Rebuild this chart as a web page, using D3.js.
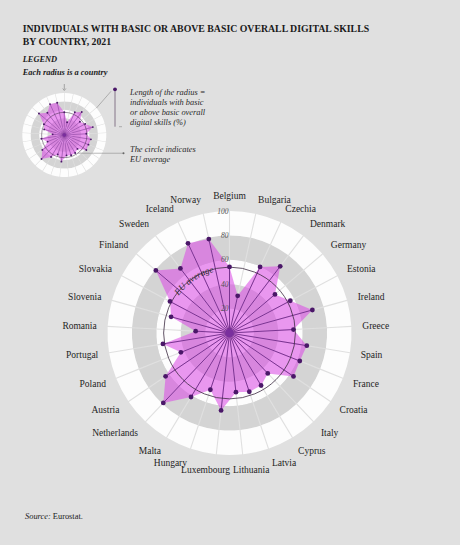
<!DOCTYPE html>
<html>
<head>
<meta charset="utf-8">
<script src="https://cdn.jsdelivr.net/npm/d3@7"></script>
<style>
  html, body { margin: 0; padding: 0; background: #e0e0e0; }
  svg { display: block; }
  text { font-family: "Liberation Serif", "DejaVu Serif", serif; }
</style>
</head>
<body>
<script>
// ---------- data ----------
const countries = ["Belgium","Bulgaria","Czechia","Denmark","Germany","Estonia","Ireland","Greece","Spain","France","Croatia","Italy","Cyprus","Latvia","Lithuania","Luxembourg","Hungary","Malta","Netherlands","Austria","Poland","Portugal","Romania","Slovenia","Slovakia","Finland","Sweden","Iceland","Norway"];
const values = [54.2,31.2,59.7,68.7,48.9,56.4,70.5,52.5,64.2,62.0,63.4,45.6,50.2,50.8,48.8,63.8,49.1,61.2,78.9,63.3,42.9,55.3,27.8,49.7,55.2,79.2,66.5,81.0,78.8];
const euAverage = 54;
const tickValues = [20,40,60,80,100];
const bandBreaks = [0,20,40,60,80,100];
const bandColors = ["#fdfdfd","#d4d4d4","#fdfdfd","#d4d4d4","#fdfdfd"];

const W = 460, H = 545;
const svg = d3.select("body").append("svg").attr("width", W).attr("height", H);

const n = countries.length;
const angle = d3.scaleLinear().domain([0, n]).range([0, 2 * Math.PI]);

function drawRadar(g, R, opt) {
  const r = d3.scaleLinear().domain([0, 100]).range([0, R]);
  // background bands split into sectors
  const arc = d3.arc().padRadius(100).padAngle(opt.gap / 100);
  bandColors.forEach((c, k) => {
    g.append("g").selectAll("path").data(d3.range(n)).join("path")
      .attr("d", i => arc({innerRadius: r(bandBreaks[k]), outerRadius: r(bandBreaks[k + 1]),
                           startAngle: angle(i), endAngle: angle(i + 1)}))
      .attr("fill", c);
  });
  // polygon
  const line = d3.lineRadial().angle((d, i) => angle(i)).radius(d => r(d)).curve(d3.curveLinearClosed);
  g.append("path").attr("d", line(values))
    .attr("fill", "#da4de6").attr("fill-opacity", 0.58).attr("stroke", "none");
  // spokes
  g.append("g").selectAll("line").data(values).join("line")
    .attr("x1", 0).attr("y1", 0)
    .attr("x2", (d, i) => r(d) * Math.sin(angle(i)))
    .attr("y2", (d, i) => -r(d) * Math.cos(angle(i)))
    .attr("stroke", "#6e2a88").attr("stroke-width", opt.spokeW);
  // EU circle
  g.append("circle").attr("r", r(euAverage)).attr("fill", "none")
    .attr("stroke", "#3b2a40").attr("stroke-width", opt.circleW);
  // dots
  g.append("g").selectAll("circle").data(values).join("circle")
    .attr("cx", (d, i) => r(d) * Math.sin(angle(i)))
    .attr("cy", (d, i) => -r(d) * Math.cos(angle(i)))
    .attr("r", opt.dotR).attr("fill", "#4a1768");
  g.append("circle").attr("r", opt.centerR).attr("fill", "#7a2f9e");
  return r;
}

// ---------- main chart ----------
const cx = 229.5, cy = 333, R = 122;
const main = svg.append("g").attr("transform", `translate(${cx},${cy})`);
const r = drawRadar(main, R, {gap: 1.1, spokeW: 0.9, circleW: 0.8, dotR: 2.4, centerR: 4.2});

// tick labels
main.append("g").selectAll("text").data(tickValues).join("text")
  .attr("x", -1).attr("y", d => -r(d))
  .attr("dy", "0.35em")
  .attr("text-anchor", "end")
  .attr("font-style", "italic").attr("font-size", 7.5).attr("fill", "#555")
  .text(d => d);

// EU average curved label
const euR = r(euAverage) - 2.8;
const a0 = -58 * Math.PI / 180, a1 = -10 * Math.PI / 180;
const euPath = d3.path();
euPath.arc(0, 0, euR, a0 - Math.PI / 2, a1 - Math.PI / 2, false);
main.append("path").attr("id", "euArc").attr("d", euPath.toString()).attr("fill", "none");
main.append("text").attr("font-style", "italic").attr("font-size", 9).attr("fill", "#2a2a2a")
  .append("textPath").attr("href", "#euArc").attr("startOffset", "50%").attr("text-anchor", "middle")
  .text("EU average");

// country labels
const labelRx = 133, labelRy = 137;
main.append("g").selectAll("text").data(countries).join("text")
  .each(function (d, i) {
    const a = angle(i), s = Math.sin(a), c = Math.cos(a);
    let x = labelRx * s, anchor;
    if (Math.abs(s) < 0.01) { anchor = "middle"; x = 0; }
    else if (c < 0 && Math.abs(s) < 0.15) { anchor = s > 0 ? "start" : "end"; x = s > 0 ? 3.5 : 0.5; }
    else anchor = s > 0 ? "start" : "end";
    d3.select(this).attr("x", x).attr("y", -labelRy * c).attr("dy", "0.35em").attr("text-anchor", anchor);
  })
  .attr("font-size", 9.5).attr("fill", "#1e1e1e")
  .text(d => d);

// ---------- title ----------
svg.append("text").attr("x", 22.7).attr("y", 31.5)
  .attr("font-weight", "bold").attr("font-size", 9.8).attr("fill", "#1a1a1a")
  .text("INDIVIDUALS WITH BASIC OR ABOVE BASIC OVERALL DIGITAL SKILLS");
svg.append("text").attr("x", 22.7).attr("y", 45)
  .attr("font-weight", "bold").attr("font-size", 9.8).attr("fill", "#1a1a1a")
  .text("BY COUNTRY, 2021");

// ---------- legend ----------
svg.append("text").attr("x", 22.7).attr("y", 61.5)
  .attr("font-weight", "bold").attr("font-style", "italic").attr("font-size", 8.4).attr("fill", "#1a1a1a")
  .text("LEGEND");
svg.append("text").attr("x", 22.7).attr("y", 74.5)
  .attr("font-weight", "bold").attr("font-style", "italic").attr("font-size", 8.4).attr("fill", "#1a1a1a")
  .text("Each radius is a country");

const mcx = 64.3, mcy = 135, mR = 42;
const mini = svg.append("g").attr("transform", `translate(${mcx},${mcy})`);
const mr = drawRadar(mini, mR, {gap: 0.6, spokeW: 0.45, circleW: 0.5, dotR: 0.95, centerR: 1.8});

const annoColor = "#8a8a8a";
// down arrow
svg.append("line").attr("x1", mcx).attr("x2", mcx).attr("y1", mcy - mR - 9).attr("y2", mcy - mR - 3.5)
  .attr("stroke", annoColor).attr("stroke-width", 0.7);
svg.append("path").attr("d", `M${mcx - 1.6},${mcy - mR - 4.5} L${mcx},${mcy - mR - 2.5} L${mcx + 1.6},${mcy - mR - 4.5}`)
  .attr("fill", "none").attr("stroke", annoColor).attr("stroke-width", 0.7);

// radius length bar
const barX = 115, barTop = mcy - 45.7, barBot = mcy - 8.3;
const la = 50 * Math.PI / 180;
svg.append("line")
  .attr("x1", mcx + mr(100) * Math.sin(la)).attr("y1", mcy - mr(100) * Math.cos(la))
  .attr("x2", barX - 4).attr("y2", barTop + 2)
  .attr("stroke", annoColor).attr("stroke-width", 0.6);
svg.append("line").attr("x1", barX).attr("x2", barX).attr("y1", barTop).attr("y2", barBot)
  .attr("stroke", "#7a6a80").attr("stroke-width", 0.9);
svg.append("circle").attr("cx", barX).attr("cy", barTop).attr("r", 1.9).attr("fill", "#4a1768");
svg.append("line").attr("x1", barX + 4).attr("x2", barX + 7).attr("y1", barBot).attr("y2", barBot)
  .attr("stroke", annoColor).attr("stroke-width", 0.6);

// EU circle pointer
const ea = 143.5 * Math.PI / 180;
const ex = mcx + mr(euAverage) * Math.sin(ea), ey = mcy - mr(euAverage) * Math.cos(ea);
svg.append("line").attr("x1", ex).attr("y1", ey).attr("x2", 123.5).attr("y2", ey)
  .attr("stroke", annoColor).attr("stroke-width", 0.6);
svg.append("circle").attr("cx", 123.5).attr("cy", ey).attr("r", 1).attr("fill", "#666");

const legendLines1 = ["Length of the radius =", "individuals with basic", "or above basic overall", "digital skills (%)"];
svg.append("g").selectAll("text").data(legendLines1).join("text")
  .attr("x", 130).attr("y", (d, i) => 94.5 + i * 10.2)
  .attr("font-style", "italic").attr("font-size", 8.4).attr("fill", "#2a2a2a")
  .text(d => d);
const legendLines2 = ["The circle indicates", "EU average"];
svg.append("g").selectAll("text").data(legendLines2).join("text")
  .attr("x", 130).attr("y", (d, i) => 152 + i * 10.2)
  .attr("font-style", "italic").attr("font-size", 8.4).attr("fill", "#2a2a2a")
  .text(d => d);

// ---------- source ----------
const src = svg.append("text").attr("x", 25).attr("y", 519).attr("font-size", 8.4).attr("fill", "#1a1a1a");
src.append("tspan").attr("font-style", "italic").text("Source:");
src.append("tspan").text(" Eurostat.");
</script>
</body>
</html>
